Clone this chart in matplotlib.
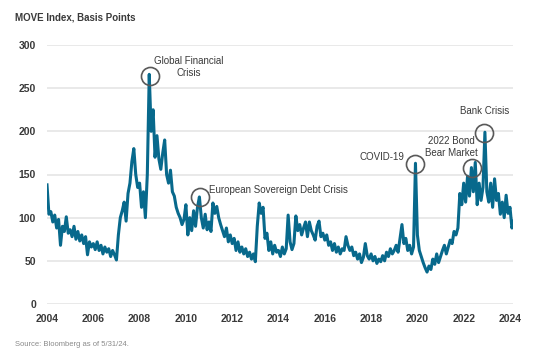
import matplotlib
matplotlib.use("Agg")
import matplotlib.pyplot as plt
import numpy as np

# MOVE index, monthly readings taken off the chart (basis points)
start_year = 2004
move_04_07 = [138, 104, 107, 95, 103, 88, 98, 68, 90, 84, 101, 82,
              86, 78, 90, 75, 84, 73, 80, 70, 78, 57, 72, 66,
              70, 63, 72, 62, 68, 58, 66, 60, 64, 55, 62, 57,
              51, 80, 100, 108, 118, 96, 128, 140, 165, 180, 150, 135]
move_08_11 = [140, 112, 130, 100, 150, 266, 200, 225, 170, 195, 168, 156,
              175, 190, 150, 140, 155, 130, 125, 112, 105, 100, 92, 98,
              115, 80, 100, 85, 108, 90, 112, 124, 100, 88, 104, 86,
              95, 84, 117, 105, 113, 100, 92, 85, 78, 88, 72, 80]
move_12_15 = [70, 76, 62, 72, 60, 66, 58, 64, 55, 60, 52, 58,
              49, 90, 117, 105, 112, 76, 82, 62, 72, 58, 68, 60,
              62, 55, 66, 58, 64, 103, 72, 63, 70, 102, 85, 92,
              80, 88, 95, 78, 95, 85, 80, 74, 90, 96, 78, 82]
move_16_19 = [74, 80, 68, 72, 62, 70, 60, 66, 58, 64, 62, 78,
              68, 62, 66, 56, 60, 52, 58, 48, 54, 70, 56, 52,
              58, 50, 55, 47, 52, 49, 56, 50, 60, 55, 64, 58,
              62, 68, 60, 76, 92, 70, 76, 62, 68, 58, 66, 163]
move_20_24 = [80, 62, 55, 48, 42, 37, 44, 40, 52, 46, 58, 48,
              55, 62, 68, 58, 66, 74, 70, 84, 80, 88, 128, 115,
              140, 118, 148, 125, 158, 130, 164, 115, 140, 120, 135, 199,
              130, 118, 140, 112, 145, 120, 128, 104, 118, 100, 126, 105,
              112, 88, 96]

# annotated events (x position in years, value)
event_x = [2008.45, 2010.61, 2019.90, 2022.35, 2022.89]
event_y = [264, 124, 162, 157, 198]

x_ticks = list(range(2004, 2025, 2))
y_ticks = [0, 50, 100, 150, 200, 250, 300]

plt.rcParams['font.family'] = ['Liberation Sans', 'DejaVu Sans']

move = np.array(move_04_07 + move_08_11 + move_12_15 + move_16_19 + move_20_24)
years = start_year + np.arange(len(move)) / 12.0

fig = plt.figure(figsize=(5.46, 3.53), dpi=100)
ax = fig.add_axes([47 / 546, 1 - 304 / 353, 466 / 546, 259 / 353])

line_color = '#08698c'
txt_color = '#3a3a3a'

ax.plot(years, move, color=line_color, lw=2.2, solid_joinstyle='round', zorder=3)

# circles around the events
ax.plot(event_x, event_y, 'o', mfc='none', mec='#595959', ms=13, mew=1.2,
        clip_on=False, zorder=4)

ax.set_xlim(2004, 2024.13)
ax.set_ylim(0, 300)
ax.set_xticks(x_ticks)
ax.set_yticks(y_ticks)
ax.set_xticklabels([str(t) for t in x_ticks])
ax.set_yticklabels([str(t) for t in y_ticks])
ax.tick_params(length=0, labelsize=7.5, colors=txt_color, pad=7)
ax.tick_params(axis='y', pad=8)
for lab in ax.get_xticklabels() + ax.get_yticklabels():
    lab.set_fontweight('semibold')
ax.grid(axis='y', color='#e3e3e3', lw=1.1, zorder=0)
for s in ax.spines.values():
    s.set_visible(False)

# annotation labels
fs = 7
ax.text(2010.12, 274, 'Global Financial\nCrisis', ha='center', va='center',
        fontsize=fs, color=txt_color, linespacing=1.25)
ax.text(2011.0, 132.5, 'European Sovereign Debt Crisis', ha='left', va='center',
        fontsize=fs, color=txt_color)
ax.text(2019.45, 170, 'COVID-19', ha='right', va='center',
        fontsize=fs, color=txt_color)
ax.text(2021.45, 182, '2022 Bond\nBear Market', ha='center', va='center',
        fontsize=fs, color=txt_color, linespacing=1.25)
ax.text(2022.9, 223, 'Bank Crisis', ha='center', va='center',
        fontsize=fs, color=txt_color)

fig.text(15 / 546, 1 - 17 / 353, 'MOVE Index, Basis Points', ha='left', va='center',
         fontsize=7, fontweight='bold', color=txt_color)
fig.text(15 / 546, 1 - 345 / 353, 'Source: Bloomberg as of 5/31/24.', ha='left',
         va='center', fontsize=5.5, color='#8a8a8a')

fig.savefig('out.png', dpi=100)
